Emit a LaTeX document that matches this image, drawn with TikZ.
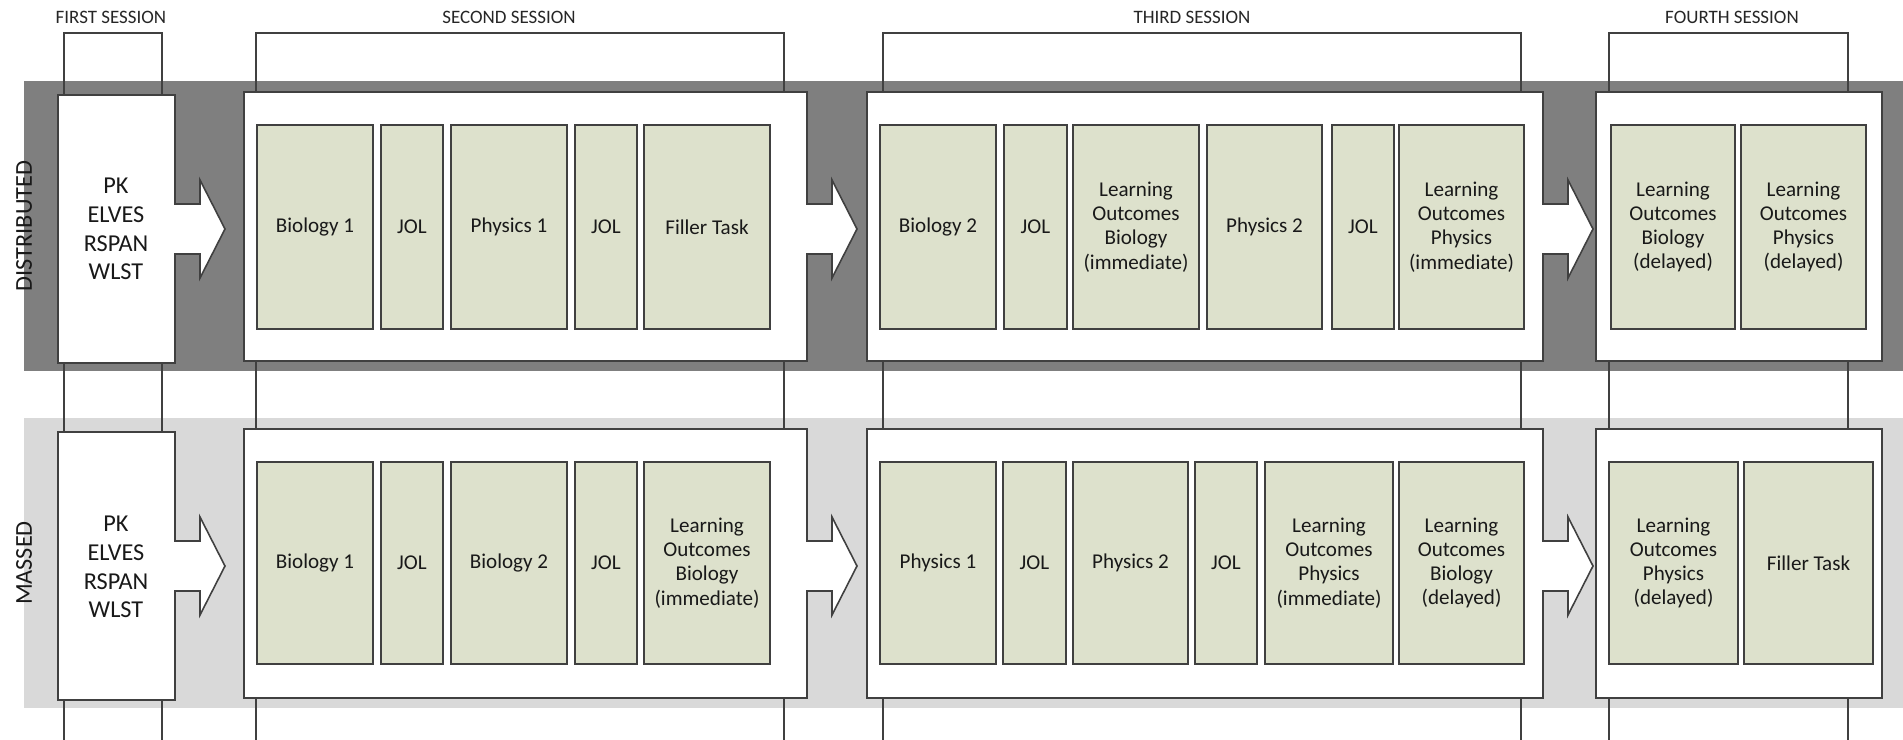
\documentclass[tikz,border=0pt]{standalone}
\usepackage{fontspec}
\setmainfont{Carlito}
\definecolor{mydarkband}{RGB}{127,127,127}
\definecolor{mylightband}{RGB}{217,217,217}
\definecolor{mytaskcolor}{RGB}{221,225,204}
\definecolor{myedge}{RGB}{64,64,64}

\begin{document}
\begin{tikzpicture}[x=0.02cm,y=-0.02cm,
  sessionlabel/.style={font=\fontsize{10.8}{12}\selectfont,text=black!85},
  rowlabel/.style={font=\fontsize{13.8}{15}\selectfont,rotate=90,text=black!90},
  sessionbox/.style={draw=myedge,fill=white,line width=0.9pt,line join=miter},
  testlist/.style={font=\fontsize{13.8}{16.4}\selectfont,align=center,text=black!90},
  taskbox/.style={draw=myedge,fill=mytaskcolor,line width=1pt,inner sep=0pt,align=center,
    font=\fontsize{12}{13.8}\selectfont,text=black!90}]
  \useasboundingbox (0,0) rectangle (1903,740);
  % bands
  \fill[mydarkband]  (24,81)  rectangle (1903,371);
  \fill[mylightband] (24,418) rectangle (1903,708);
    \node[rowlabel] (ldist) at (24,226) {DISTRIBUTED};
    \node[rowlabel] (lmass) at (24,563) {MASSED};
  % session brackets
  \foreach \bl/\br/\bx/\tl in {64/162/111/FIRST,256/784/509/SECOND,883/1521/1192/THIRD,1609/1848/1732/FOURTH} {
    \draw[myedge,line width=0.6pt] (\bl,740) -- (\bl,33) -- (\br,33) -- (\br,740);
    \node[sessionlabel] (s\tl) at (\bx,17) {\tl{} SESSION};}
  % session boxes with arrows
  \foreach \dy in {0,337} {
    \foreach \bl/\br/\bt/\bb in {58/175/95/363,244/807/92/361,867/1543/92/361} {
      \draw[sessionbox] (\bl,{\bt+\dy}) -- (\br,{\bt+\dy}) -- (\br,{204+\dy}) -- ({\br+25},{204+\dy})
        -- ({\br+25},{180+\dy}) -- ({\br+50},{229+\dy}) -- ({\br+25},{278+\dy}) -- ({\br+25},{254+\dy})
        -- (\br,{254+\dy}) -- (\br,{\bb+\dy}) -- (\bl,{\bb+\dy}) -- cycle;}
    \draw[sessionbox] (1596,{92+\dy}) rectangle (1882,{361+\dy});}
  \node[testlist] (pkd) at (116,229) {PK\\ELVES\\RSPAN\\WLST};
  \node[testlist] (pkm) at (116,567) {PK\\ELVES\\RSPAN\\WLST};
  % distributed tasks
  \foreach \xa/\xb/\tx [count=\i] in {257/373/{Biology 1},381/443/JOL,451/567/{Physics 1},575/637/JOL,644/770/{Filler Task},
      880/996/{Biology 2},1004/1067/JOL,1073/1199/{Learning\\Outcomes\\Biology\\(immediate)},1207/1322/{Physics 2},
      1332/1394/JOL,1399/1524/{Learning\\Outcomes\\Physics\\(immediate)},
      1611/1735/{Learning\\Outcomes\\Biology\\(delayed)},1741/1866/{Learning\\Outcomes\\Physics\\(delayed)}}
    \node[taskbox,minimum width={(\xb-\xa)*0.02cm},minimum height=4.08cm] (dist-\i) at ({(\xa+\xb)/2},227) {\tx};
  % massed tasks
  \foreach \xa/\xb/\tx [count=\i] in {257/373/{Biology 1},381/443/JOL,451/567/{Biology 2},575/637/JOL,
      644/770/{Learning\\Outcomes\\Biology\\(immediate)},
      880/996/{Physics 1},1003/1066/JOL,1073/1188/{Physics 2},1195/1257/JOL,
      1265/1393/{Learning\\Outcomes\\Physics\\(immediate)},1399/1524/{Learning\\Outcomes\\Biology\\(delayed)},
      1609/1738/{Learning\\Outcomes\\Physics\\(delayed)},1744/1873/{Filler Task}}
    \node[taskbox,minimum width={(\xb-\xa)*0.02cm},minimum height=4.04cm] (mass-\i) at ({(\xa+\xb)/2},563) {\tx};
\end{tikzpicture}
\end{document}
